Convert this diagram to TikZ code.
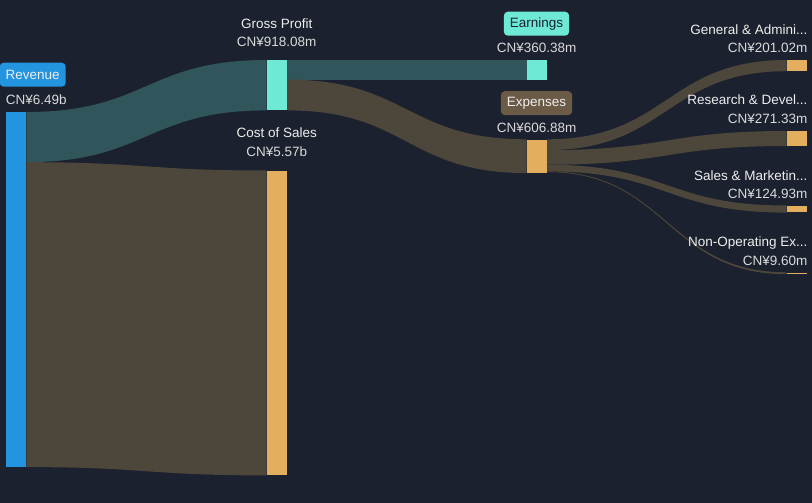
\documentclass[tikz,border=0pt]{standalone}
\usepackage{fontspec}
\setmainfont{Liberation Sans}
\usetikzlibrary{calc,positioning}
\definecolor{bg}{HTML}{1B212E}
\definecolor{revblue}{HTML}{2394E0}
\definecolor{gpcyan}{HTML}{6EE9D6}
\definecolor{costorange}{HTML}{E4AE5F}
\definecolor{tealflow}{HTML}{30555A}
\definecolor{brownflow}{HTML}{4D463A}
\definecolor{exptagbg}{HTML}{6B5A45}
\definecolor{txt}{HTML}{EEEEEE}
\definecolor{txtdim}{HTML}{DADADA}

\begin{document}
\begin{tikzpicture}[x=1pt, y=-1pt, font=\fontsize{13.5}{16}\selectfont] % y nach unten, wie Pixel

		\tikzstyle{bar} = [rectangle, inner sep=0pt, minimum width=20pt, anchor=north west]
		\tikzstyle{badge} = [rectangle, rounded corners=4pt, minimum height=24pt, inner xsep=6pt, text=txt]
		\tikzstyle{caption} = [anchor=base, text=txt]
		\tikzstyle{amount} = [anchor=base, text=txtdim]
		\tikzstyle{profit} = [fill=tealflow]
		\tikzstyle{cost} = [fill=brownflow]

		\fill[bg] (0,0) rectangle (812,503);
		\useasboundingbox (0,0) rectangle (812,503);

		% Balken
		\node [bar, fill=revblue, minimum height=354.7pt] (rev) at (6,112) {};
		\node [bar, fill=gpcyan, minimum height=50pt] (gp) at (266.7,60) {};
		\node [bar, fill=costorange, minimum height=304.5pt] (cos) at (266.7,170.5) {};
		\node [bar, fill=gpcyan, minimum height=19.6pt] (earn) at (526.7,60) {};
		\node [bar, fill=costorange, minimum height=33.4pt] (exp) at (526.7,139.3) {};
		\node [bar, fill=costorange, minimum height=10.8pt] (ga) at (786.7,60) {};
		\node [bar, fill=costorange, minimum height=14.6pt] (rd) at (786.7,131) {};
		\node [bar, fill=costorange, minimum height=6.7pt] (sm) at (786.7,205.5) {};
		\node [bar, fill=costorange, minimum height=1.5pt] (nop) at (786.7,272.3) {};

		% Stroeme
		\fill [profit] (rev.north east) .. controls +(120,0) and +(-120,0) .. (gp.north west) -- (gp.south west) .. controls +(-120,0) and +(120,0) .. ($(rev.north east)+(0,50.2)$) -- cycle;
		\fill [cost] ($(rev.north east)+(0,50.2)$) .. controls +(120,0) and +(-120,0) .. (cos.north west) -- (cos.south west) .. controls +(-120,0) and +(120,0) .. (rev.south east) -- cycle;
		\fill [profit] (gp.north east) rectangle (earn.south west);
		\fill [cost] ($(gp.north east)+(0,19.6)$) .. controls +(120,0) and +(-120,0) .. (exp.north west) -- (exp.south west) .. controls +(-120,0) and +(120,0) .. (gp.south east) -- cycle;
		\foreach \target/\from/\to in {ga/0/10.8, rd/10.8/25.4, sm/25.4/32.1, nop/32.1/32.9}
			\fill [cost] ($(exp.north east)+(0,\from)$) .. controls +(120,0) and +(-120,0) .. (\target.north west) -- (\target.south west) .. controls +(-120,0) and +(120,0) .. ($(exp.north east)+(0,\to)$) -- cycle;

		% Beschriftungen
		\node [badge, fill=revblue] (revtag) at (32.7,74.7) {Revenue};
		\node [amount, anchor=base west] (revval) at (2.3,105) {CN¥6.49b};
		\node [caption] (gpname) at (276.7,28.3) {Gross Profit};
		\node [amount] (gpval) at (276.7,46.7) {CN¥918.08m};
		\node [caption] (cosname) at (276.7,137.7) {Cost of Sales};
		\node [amount] (cosval) at (276.7,156) {CN¥5.57b};
		\node [badge, fill=gpcyan, text=bg] (earntag) at (536.5,23.7) {Earnings};
		\node [amount] (earnval) at (536.7,52.7) {CN¥360.38m};
		\node [badge, fill=exptagbg] (exptag) at (536.5,103.2) {Expenses};
		\node [amount] (expval) at (536.7,132.7) {CN¥606.88m};
		\node [caption, anchor=base east] (ganame) at (811,34.3) {General \& Admini...};
		\node [amount, anchor=base east] (gaval) at (811,52.7) {CN¥201.02m};
		\node [caption, anchor=base east] (rdname) at (811,104.3) {Research \& Devel...};
		\node [amount, anchor=base east] (rdval) at (811,123.3) {CN¥271.33m};
		\node [caption, anchor=base east] (smname) at (811,180) {Sales \& Marketin...};
		\node [amount, anchor=base east] (smval) at (811,198.3) {CN¥124.93m};
		\node [caption, anchor=base east] (nopname) at (811,246.7) {Non-Operating Ex...};
		\node [amount, anchor=base east] (nopval) at (811,265) {CN¥9.60m};

\end{tikzpicture}
\end{document}
